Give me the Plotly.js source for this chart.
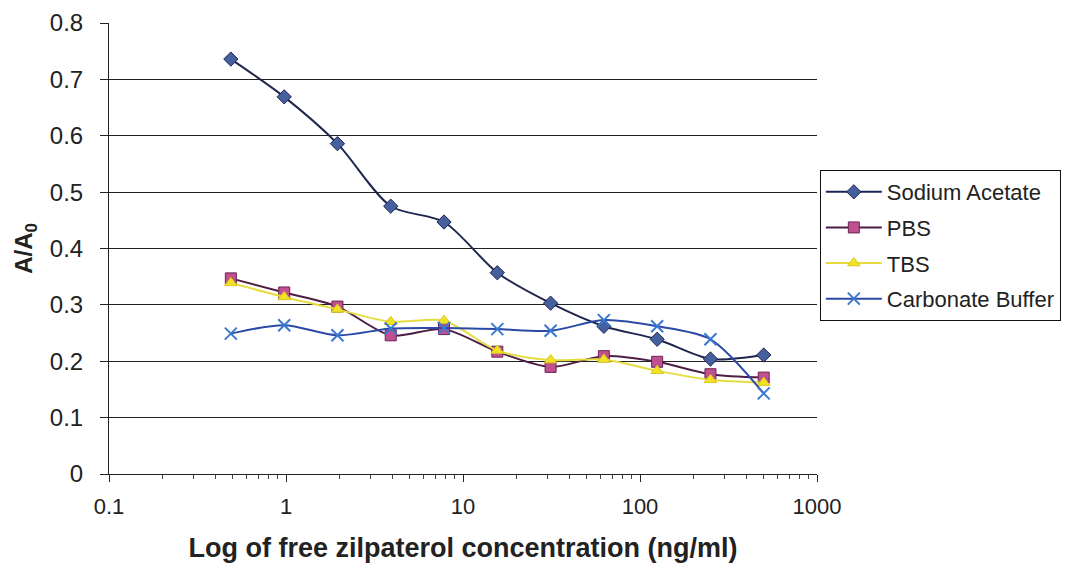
<!DOCTYPE html>
<html>
<head>
<meta charset="utf-8">
<script src="https://cdn.plot.ly/plotly-3.0.1.min.js"></script>
<style>html,body{margin:0;padding:0;background:#fff;}#chart{width:1066px;height:563px;}</style>
</head>
<body>
<div id="chart"></div>
<script>
// Free zilpaterol concentration (ng/ml), two-fold dilutions
const concentration = [0.488, 0.977, 1.953, 3.906, 7.8125, 15.625, 31.25, 62.5, 125, 250, 500];
const sodiumAcetate = [0.736, 0.669, 0.586, 0.475, 0.447, 0.357, 0.303, 0.262, 0.239, 0.204, 0.211];
const pbs = [0.347, 0.322, 0.297, 0.246, 0.257, 0.217, 0.190, 0.209, 0.199, 0.177, 0.171];
const tbs = [0.339, 0.314, 0.292, 0.270, 0.272, 0.219, 0.202, 0.203, 0.183, 0.167, 0.162];
const carbonateBuffer = [0.249, 0.264, 0.246, 0.258, 0.259, 0.257, 0.254, 0.273, 0.262, 0.239, 0.143];
const seriesNames = ["Sodium Acetate", "PBS", "TBS", "Carbonate Buffer"];
const xTickVals = [0.1, 1, 10, 100, 1000];
const xTickText = ["0.1", "1", "10", "100", "1000"];

const FONT = "Liberation Sans, Arial, sans-serif";

const traces = [
  {
    x: concentration, y: sodiumAcetate, name: seriesNames[0], legendgroup: "a",
    mode: "lines+markers", line: {color: "#1e2650", width: 2, shape: "spline", smoothing: 0.8},
    marker: {symbol: "diamond", size: 11, color: "#46609e", line: {color: "#1e2650", width: 1}}
  },
  {
    x: concentration, y: pbs, name: seriesNames[1], legendgroup: "b",
    mode: "lines+markers", line: {color: "#4e1d45", width: 2, shape: "spline", smoothing: 0.8},
    marker: {symbol: "square", size: 11, color: "#c0508e", line: {color: "#6a2454", width: 1}}
  },
  {
    x: concentration, y: tbs, name: seriesNames[2], legendgroup: "c",
    mode: "lines+markers", line: {color: "#e6dc40", width: 2, shape: "spline", smoothing: 0.8},
    marker: {symbol: "triangle-up", size: 11, color: "#f2e224", line: {color: "#d8c820", width: 1}}
  },
  {
    x: concentration, y: carbonateBuffer, name: seriesNames[3], legendgroup: "d",
    mode: "lines+markers", line: {color: "#2b4aa6", width: 2, shape: "spline", smoothing: 0.8},
    marker: {symbol: "x-thin-open", size: 12, color: "#3a78d2", line: {color: "#3a78d2", width: 2}}
  }
];

const layout = {
  width: 1066, height: 563,
  paper_bgcolor: "#ffffff", plot_bgcolor: "#ffffff",
  font: {family: FONT, color: "#222"},
  margin: {l: 109, r: 249, t: 23, b: 89, pad: 0, autoexpand: false},
  showlegend: true,
  legend: {
    x: 1.004, xanchor: "left", y: 0.674, yanchor: "top",
    bordercolor: "#111", borderwidth: 1, bgcolor: "#fff",
    font: {family: FONT, size: 22, color: "#222"},
    itemwidth: 56, tracegroupgap: 4
  },
  xaxis: {
    type: "log", range: [-1, 3],
    tickvals: xTickVals, ticktext: xTickText,
    ticks: "outside", ticklen: 7, tickcolor: "#222", tickwidth: 1,
    minor: {ticks: "outside", ticklen: 4, tickcolor: "#444", dtick: "D1", showgrid: false},
    showline: true, linecolor: "#222", linewidth: 1,
    showgrid: false, zeroline: false,
    tickfont: {family: FONT, size: 22, color: "#222"},
    ticklabelstandoff: 6,
    title: {text: "<b>Log of free zilpaterol concentration (ng/ml)</b>", font: {family: FONT, size: 27, color: "#222"}, standoff: 22},
    automargin: false
  },
  yaxis: {
    range: [0, 0.8], dtick: 0.1, tick0: 0,
    ticks: "outside", ticklen: 8, tickcolor: "#222",
    showline: true, linecolor: "#222", linewidth: 1,
    showgrid: true, gridcolor: "#222", gridwidth: 1,
    zeroline: false,
    tickfont: {family: FONT, size: 24, color: "#222"},
    ticklabelstandoff: 12,
    tickformat: ".1~f",
    title: {text: "<b>A/A<sub>0</sub></b>", font: {family: FONT, size: 24, color: "#222"}, standoff: 10},
    automargin: false
  }
};

Plotly.newPlot("chart", traces, layout, {displayModeBar: false, staticPlot: true});
</script>
</body>
</html>
